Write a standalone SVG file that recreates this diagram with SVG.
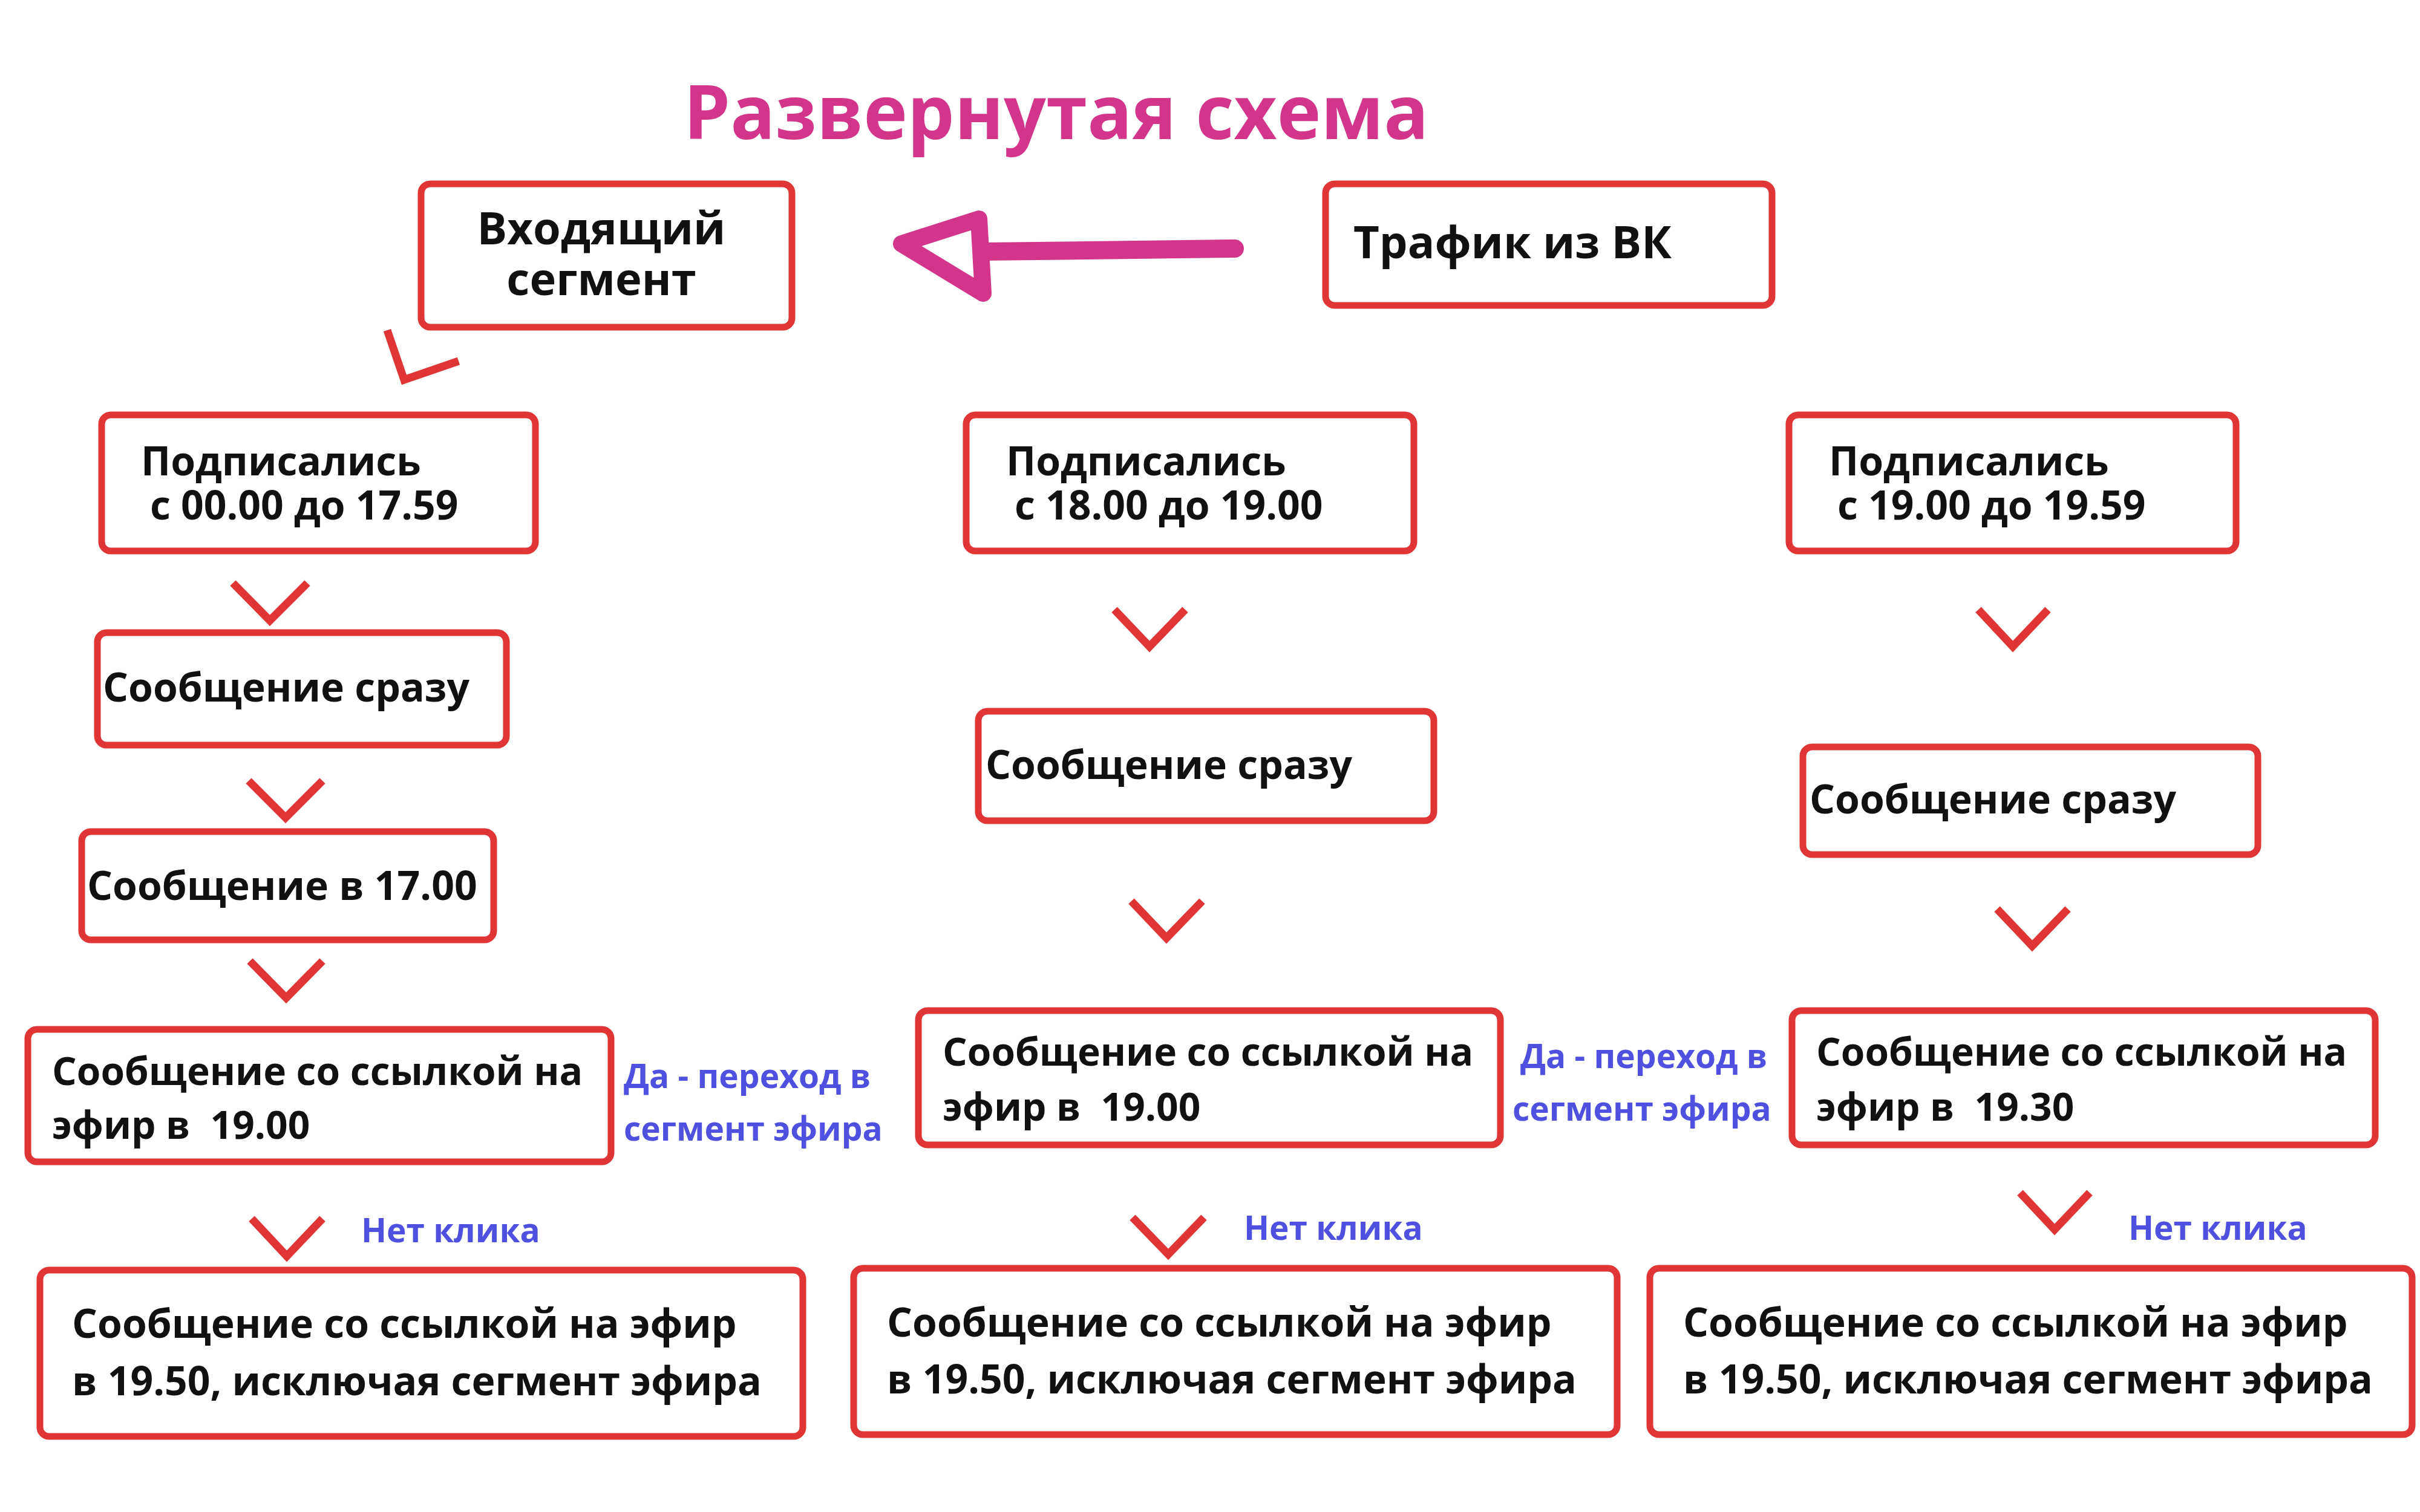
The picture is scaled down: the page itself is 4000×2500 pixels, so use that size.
<svg xmlns="http://www.w3.org/2000/svg" width="4000" height="2500" viewBox="0 0 4000 2500">
<style>
.b{fill:#fff;stroke:#e03535;stroke-width:11}
.t{font-family:"Open Sans","Noto Sans",sans-serif;font-weight:bold;font-size:66px;fill:#111;white-space:pre}
.h{font-size:74px}
.s{font-size:64px}
.l{font-family:"Open Sans","Noto Sans",sans-serif;font-weight:bold;font-size:55px;fill:#5050e0}
.c{fill:none;stroke:#e03535;stroke-width:13}
</style>
<rect width="4000" height="2500" fill="#fff"/>
<text x="1130" y="230" font-family="Open Sans,Noto Sans,sans-serif" font-weight="bold" font-size="123" fill="#d3358a">Развернутая схема</text>
<g id="n1"><rect class="b" x="696" y="304" width="613" height="237" rx="15"/><text class="t h" x="994" y="404" text-anchor="middle">Входящий</text><text class="t h" x="994" y="488" text-anchor="middle">сегмент</text></g>
<g id="n2"><rect class="b" x="2191" y="304" width="738" height="201" rx="15"/><text class="t h" x="2237" y="427">Трафик из ВК</text></g>
<g id="n3"><rect class="b" x="168" y="686" width="717" height="225" rx="15"/><text class="t" x="233" y="786">Подписались</text><text class="t" x="248" y="859">с 00.00 до 17.59</text></g>
<g id="n4"><rect class="b" x="1597" y="686" width="740" height="225" rx="15"/><text class="t" x="1663" y="786">Подписались</text><text class="t" x="1677" y="859">с 18.00 до 19.00</text></g>
<g id="n5"><rect class="b" x="2957" y="686" width="739" height="225" rx="15"/><text class="t" x="3023" y="786">Подписались</text><text class="t" x="3037" y="859">с 19.00 до 19.59</text></g>
<g id="n6"><rect class="b" x="161" y="1046" width="676" height="186" rx="15"/><text class="t" x="170" y="1160">Сообщение сразу</text></g>
<g id="n7"><rect class="b" x="1617" y="1176" width="753" height="181" rx="15"/><text class="t" x="1629" y="1288">Сообщение сразу</text></g>
<g id="n8"><rect class="b" x="2980" y="1235" width="752" height="178" rx="15"/><text class="t" x="2991" y="1345">Сообщение сразу</text></g>
<g id="n9"><rect class="b" x="135" y="1375" width="681" height="179" rx="15"/><text class="t" x="144" y="1488">Сообщение в 17.00</text></g>
<g id="n10"><rect class="b" x="46" y="1702" width="964" height="219" rx="15"/><text class="t s" x="86" y="1794">Сообщение со ссылкой на</text><text class="t s" x="86" y="1883">эфир в  19.00</text></g>
<g id="n11"><rect class="b" x="1518" y="1671" width="962" height="222" rx="15"/><text class="t s" x="1558" y="1762">Сообщение со ссылкой на</text><text class="t s" x="1558" y="1853">эфир в  19.00</text></g>
<g id="n12"><rect class="b" x="2962" y="1671" width="964" height="222" rx="15"/><text class="t s" x="3002" y="1762">Сообщение со ссылкой на</text><text class="t s" x="3002" y="1853">эфир в  19.30</text></g>
<g id="n13"><rect class="b" x="66" y="2100" width="1261" height="275" rx="15"/><text class="t" x="119" y="2212">Сообщение со ссылкой на эфир</text><text class="t" x="119" y="2307">в 19.50, исключая сегмент эфира</text></g>
<g id="n14"><rect class="b" x="1411" y="2097" width="1262" height="275" rx="15"/><text class="t" x="1466" y="2210">Сообщение со ссылкой на эфир</text><text class="t" x="1466" y="2304">в 19.50, исключая сегмент эфира</text></g>
<g id="n15"><rect class="b" x="2727" y="2097" width="1260" height="275" rx="15"/><text class="t" x="2782" y="2210">Сообщение со ссылкой на эфир</text><text class="t" x="2782" y="2304">в 19.50, исключая сегмент эфира</text></g>
<g id="labels">
<text class="l" x="1031" y="1799">Да - переход в</text><text class="l" x="1031" y="1886">сегмент эфира</text>
<text class="l" x="2513" y="1766">Да - переход в</text><text class="l" x="2500" y="1853">сегмент эфира</text>
<text class="l" x="597" y="2054">Нет клика</text><text class="l" x="2056" y="2050">Нет клика</text><text class="l" x="3518" y="2050">Нет клика</text>
</g>
<g id="connectors">
<polyline class="c" points="385,964 446,1026 508,964"/>
<polyline class="c" points="411,1291 472,1352 533,1291"/>
<polyline class="c" points="413,1589 473,1650 533,1589"/>
<polyline class="c" points="416,2015 474,2077 533,2015"/>
<polyline class="c" points="1842,1008 1900,1069 1959,1008"/>
<polyline class="c" points="1870,1490 1928,1551 1987,1490"/>
<polyline class="c" points="1872,2013 1931,2074 1990,2013"/>
<polyline class="c" points="3270,1008 3327,1069 3385,1008"/>
<polyline class="c" points="3301,1503 3359,1564 3418,1503"/>
<polyline class="c" points="3339,1972 3396,2033 3454,1972"/>
<polyline class="c" points="640,546 668,628 758,597"/>
<line x1="2041" y1="411" x2="1625" y2="416" stroke="#d3358a" stroke-width="30" stroke-linecap="round"/>
<polygon points="1490,403 1618,362 1625,485" fill="none" stroke="#d3358a" stroke-width="28" stroke-linejoin="round"/>
</g>
</svg>
